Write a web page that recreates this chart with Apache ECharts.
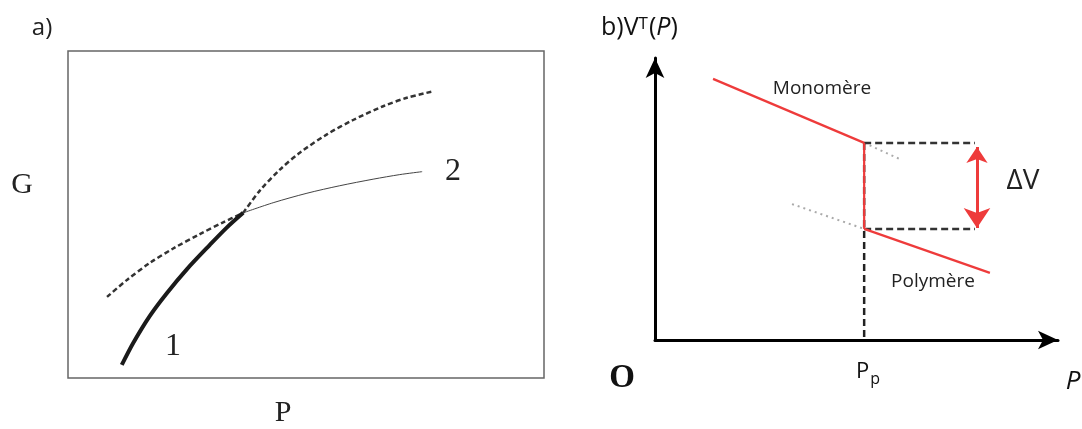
<!DOCTYPE html>
<html>
<head>
<meta charset="utf-8">
<script src="https://cdn.jsdelivr.net/npm/echarts@6/dist/echarts.min.js"></script>
<style>
  html, body { margin: 0; padding: 0; background: #fff; }
  #chart { width: 1082px; height: 429px; }
</style>
</head>
<body>
<div id="chart"></div>
<script>
// a) G(P) curves, arbitrary units 0-100
const curve1Stable = [[11.3, 4.0], [13.7, 10.7], [17.2, 19.0], [20.8, 26.0], [25.0, 33.3], [29.8, 40.7], [33.3, 45.9], [36.8, 50.5]];
const curve1Meta = [[36.8, 50.5], [40.3, 57.3], [44.5, 63.7], [48.7, 68.9], [54.4, 74.5], [59.9, 78.9], [66.2, 83.1], [71.2, 85.7], [76.5, 87.6]];
const curve2Meta = [[8.2, 24.8], [12.4, 30.0], [17.2, 35.2], [22.1, 39.6], [27.7, 44.0], [32.6, 47.6], [36.8, 50.5]];
const curve2Stable = [[36.8, 50.5], [43.1, 53.6], [50.2, 56.5], [57.1, 58.8], [64.1, 60.8], [69.7, 62.2], [74.4, 63.1]];

// b) V^T(P), arbitrary units 0-100
const pP = 51.9;
const monomere = [[14.4, 92.6], [pP, 69.9]];
const monomereExt = [[pP, 69.9], [61.3, 63.8]];
const polymere = [[pP, 39.4], [83.1, 23.8]];
const polymereExt = [[34.0, 48.2], [pP, 39.4]];
const jump = [[pP, 69.9], [pP, 39.4]];
const dashTop = [[pP, 69.9], [79.4, 69.9]];
const dashBottom = [[pP, 39.4], [79.4, 39.4]];
const dashDrop = [[pP, 69.9], [pP, 0]];
const deltaV = [[79.9, 68.4], [79.9, 39.7]];

const RED = "#ee3b3b";
const SANS = "'Open Sans', sans-serif";
const SERIF = "'Liberation Serif', serif";

const chart = echarts.init(document.getElementById("chart"));

const hiddenAxis = (grid) => ({
  gridIndex: grid, type: "value", min: 0, max: 100,
  axisLine: { show: false }, axisTick: { show: false }, axisLabel: { show: false }, splitLine: { show: false },
});
const arrowAxis = (grid) => ({
  gridIndex: grid, type: "value", min: 0, max: 100,
  axisLine: { show: true, symbol: ["none", "arrow"], symbolSize: [14, 20], lineStyle: { color: "#000", width: 3 } },
  axisTick: { show: false }, axisLabel: { show: false }, splitLine: { show: false },
});

function seg(data, xi, color, width, type, z) {
  return {
    type: "line", xAxisIndex: xi, yAxisIndex: xi, data, showSymbol: false, symbol: "none",
    lineStyle: { color, width, type }, z: z || 2, silent: true,
  };
}
function curve(data, color, width, type) {
  return Object.assign(seg(data, 0, color, width, type), { smooth: 0.3 });
}

function text(x, y, str, size, family, extra) {
  return {
    type: "text", x, y, z: 10,
    style: Object.assign({ text: str, fontSize: size, fontFamily: family, fill: "#222", align: "center", verticalAlign: "middle" }, extra || {}),
  };
}

chart.setOption({
  animation: false,
  backgroundColor: "#fff",
  grid: [
    { left: 68, top: 51, width: 476, height: 327, show: true, borderColor: "#666", borderWidth: 1.5, backgroundColor: "transparent" },
    { left: 655, top: 58, width: 403, height: 282 },
  ],
  xAxis: [hiddenAxis(0), arrowAxis(1)],
  yAxis: [hiddenAxis(0), arrowAxis(1)],
  series: [
    curve(curve2Meta, "#333", 2.5, [5, 3]),
    curve(curve1Meta, "#333", 2.5, [5, 3]),
    curve(curve2Stable, "#444", 1),
    curve(curve1Stable, "#1a1a1a", 4),
    seg(monomereExt, 1, "#aaa", 2, [2, 4]),
    seg(polymereExt, 1, "#aaa", 2, [2, 4]),
    seg(dashTop, 1, "#333", 2.5, [7, 4]),
    seg(dashBottom, 1, "#333", 2.5, [7, 4]),
    seg(dashDrop, 1, "#222", 2.5, [7, 4]),
    seg(monomere, 1, RED, 2.2, "solid", 4),
    seg(jump, 1, RED, 2.2, "solid", 4),
    seg(polymere, 1, RED, 2.2, "solid", 4),
    {
      type: "lines", coordinateSystem: "cartesian2d", xAxisIndex: 1, yAxisIndex: 1, z: 5, silent: true,
      symbol: ["arrow", "arrow"], symbolSize: [16, 20],
      lineStyle: { color: RED, width: 3, opacity: 1 },
      data: [{ coords: deltaV }],
    },
  ],
  graphic: [
    text(42, 28, "a)", 24, SANS),
    text(22, 185, "G", 30, SERIF),
    text(283, 413, "P", 30, SERIF),
    text(173, 347, "1", 32, SERIF),
    text(453, 172, "2", 32, SERIF),
    {
      type: "text", x: 601, y: 28, z: 10,
      style: {
        text: "{a|b)V}{s|T}{a|(}{i|P}{a|)}",
        verticalAlign: "middle",
        rich: {
          a: { fontSize: 25, fontFamily: SANS, fill: "#111" },
          s: { fontSize: 17, fontFamily: SANS, fill: "#111", verticalAlign: "top", padding: [0, 1, 8, 0] },
          i: { fontSize: 25, fontFamily: SANS, fontStyle: "italic", fill: "#111" },
        },
      },
    },
    text(822, 89, "Monomère", 19, SANS),
    text(933, 282, "Polymère", 19, SANS),
    text(1023, 181, "ΔV", 28, SANS),
    text(622, 378, "O", 33, SERIF, { fontWeight: "bold", fill: "#111" }),
    {
      type: "text", x: 856, y: 372, z: 10,
      style: {
        text: "{p|P}{s|p}",
        verticalAlign: "middle",
        rich: {
          p: { fontSize: 22, fontFamily: SANS, fill: "#111" },
          s: { fontSize: 16, fontFamily: SANS, fill: "#111", padding: [14, 0, 0, 1] },
        },
      },
    },
    text(1073, 382, "P", 26, SANS, { fontStyle: "italic", fill: "#111" }),
  ],
});
</script>
</body>
</html>
